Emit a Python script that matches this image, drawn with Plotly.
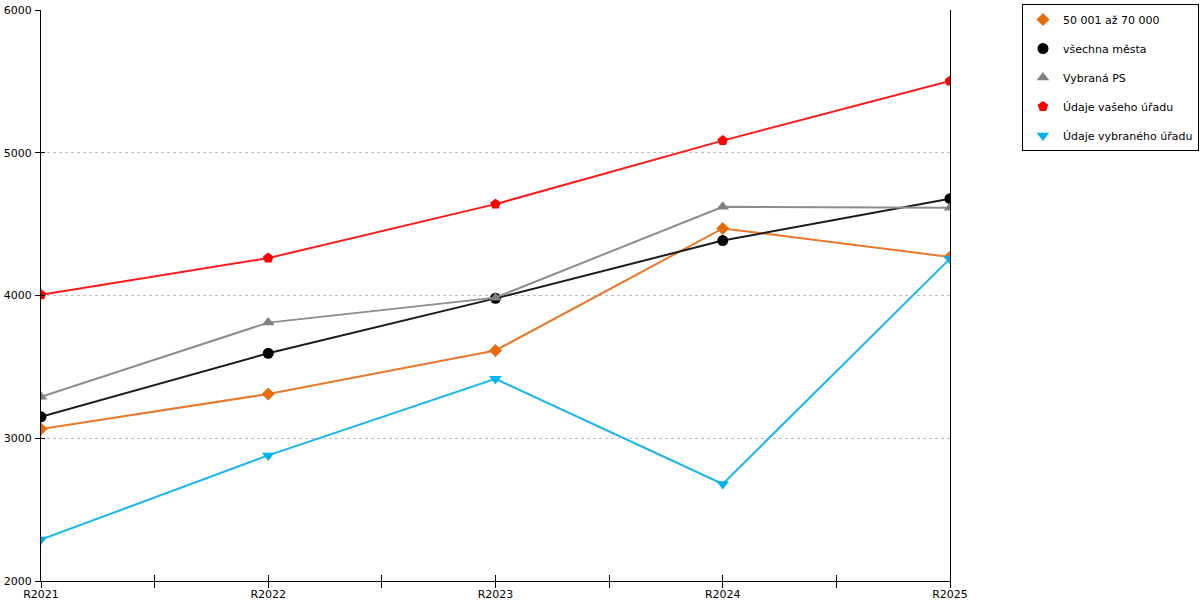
import plotly.graph_objects as go

categories = ["R2021", "R2022", "R2023", "R2024", "R2025"]
series_names = ["50 001 až 70 000", "všechna města", "Vybraná PS", "Údaje vašeho úřadu", "Údaje vybraného úřadu"]
orange_vals = [3065, 3310, 3615, 4470, 4270]
black_vals = [3150, 3595, 3980, 4385, 4678]
gray_vals = [3290, 3810, 3985, 4622, 4615]
red_vals = [4005, 4262, 4640, 5085, 5502]
blue_vals = [2290, 2880, 3416, 2680, 4258]
y_ticks = [2000, 3000, 4000, 5000, 6000]

colors = ["#E46C0A", "#000000", "#808080", "#FF0000", "#00B0F0"]
line_colors = ["#E8782A", "#1a1a1a", "#8c8c8c", "#FF1a1a", "#1ab4f0"]
symbols = ["diamond", "circle", "triangle-up", "pentagon", "triangle-down"]
sizes = [10, 11, 11, 11, 11]
values = [orange_vals, black_vals, gray_vals, red_vals, blue_vals]

xs = list(range(len(categories)))
font = "DejaVu Sans, Verdana, sans-serif"

fig = go.Figure()
for i, (name, vals) in enumerate(zip(series_names, values)):
    fig.add_trace(go.Scatter(
        x=xs, y=vals, name=name, mode="lines+markers",
        line=dict(color=line_colors[i], width=2),
        marker=dict(symbol=symbols[i], color=colors[i], size=sizes[i], line=dict(width=0)),
        legendgroup=name, showlegend=False,
    ))
    # marker-only legend entry
    fig.add_trace(go.Scatter(
        x=[None], y=[None], name=name, mode="markers",
        marker=dict(symbol=symbols[i], color=colors[i], size=sizes[i], line=dict(width=0)),
        legendgroup=name, showlegend=True, hoverinfo="skip",
    ))

# invisible trace on overlay axes so they render ticks crossing the axis lines
fig.add_trace(go.Scatter(x=[xs[0], xs[-1]], y=[y_ticks[0], y_ticks[-1]], xaxis="x2", yaxis="y2",
                         mode="markers", marker=dict(opacity=0), showlegend=False, hoverinfo="skip"))

half_ticks = [v / 2 for v in range(0, 2 * (len(categories) - 1) + 1)]

fig.update_layout(
    width=1200, height=600,
    margin=dict(l=41, r=250, t=10, b=19, autoexpand=False),
    plot_bgcolor="white", paper_bgcolor="white",
    font=dict(family=font, size=11, color="#000000"),
    xaxis=dict(
        range=[xs[0], xs[-1]], tickmode="array", tickvals=xs, ticktext=categories,
        ticks="outside", ticklen=6, tickcolor="black", tickwidth=1,
        minor=dict(tickmode="array", tickvals=half_ticks, ticks="outside", ticklen=6, tickcolor="black", tickwidth=1),
        showline=True, linecolor="black", linewidth=1, showgrid=False, zeroline=False,
        tickfont=dict(size=11), fixedrange=True, automargin=False, ticklabelstandoff=-3,
    ),
    yaxis=dict(
        range=[y_ticks[0], y_ticks[-1]], tickmode="array", tickvals=y_ticks,
        ticks="outside", ticklen=5, tickcolor="black", tickwidth=1,
        showline=True, linecolor="black", linewidth=1, mirror=True,
        showgrid=True, gridcolor="#c0c0c0", griddash="dot", gridwidth=1, zeroline=False,
        tickfont=dict(size=11), ticklabelstandoff=1, automargin=False,
    ),
    xaxis2=dict(
        overlaying="x", matches="x", range=[xs[0], xs[-1]], tickmode="array", tickvals=half_ticks,
        showticklabels=False, ticks="inside", ticklen=6, tickcolor="black", showgrid=False,
        zeroline=False, showline=False, side="bottom", automargin=False,
    ),
    yaxis2=dict(
        overlaying="y", matches="y", range=[y_ticks[0], y_ticks[-1]], tickmode="array", tickvals=y_ticks,
        showticklabels=False, ticks="inside", ticklen=4, tickcolor="black", showgrid=False,
        zeroline=False, showline=False, side="left", automargin=False,
    ),
    legend=dict(
        x=1.2739, y=1.0105, xanchor="right", yanchor="top",
        bgcolor="white", bordercolor="black", borderwidth=1,
        font=dict(family=font, size=11), tracegroupgap=10, itemwidth=30,
    ),
    showlegend=True,
)

fig.write_html("out.html", config={"displayModeBar": False},
               post_script="document.body.style.margin='0';")
